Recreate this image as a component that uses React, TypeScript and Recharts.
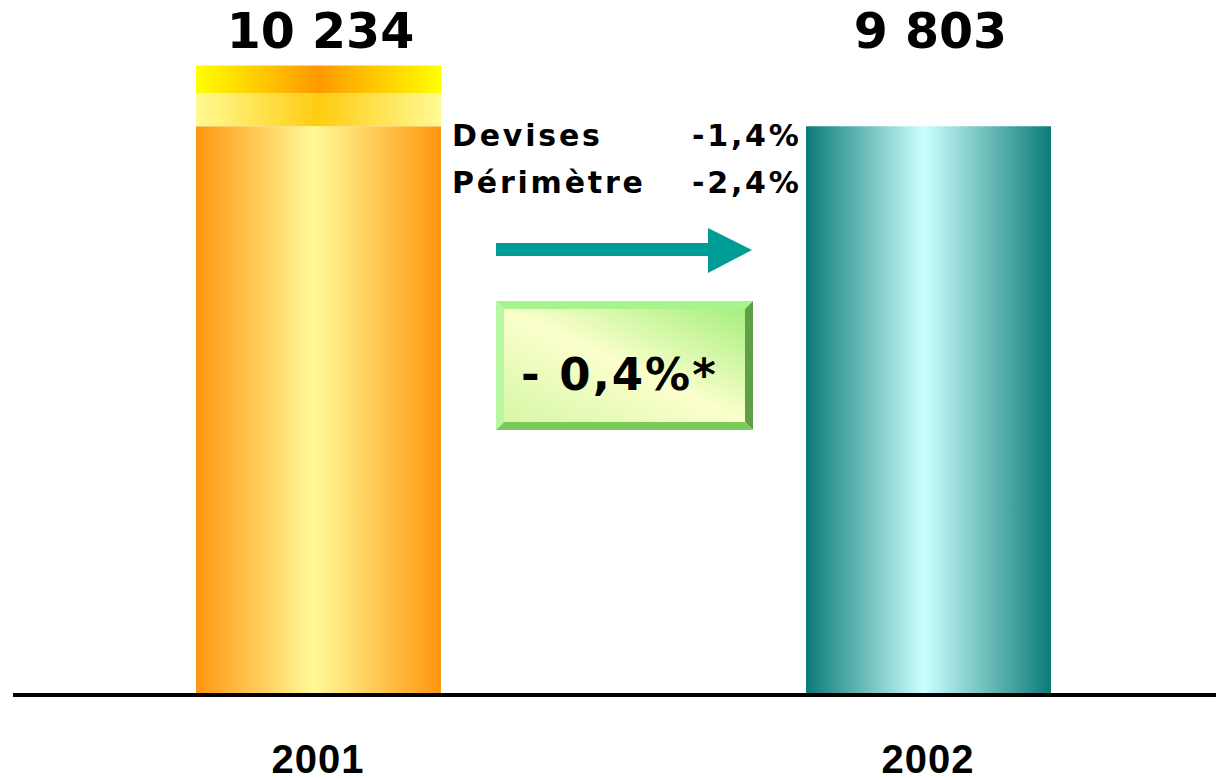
import React from 'react';
import { BarChart, Bar, XAxis, YAxis, LabelList, Cell } from 'recharts';

const years = ['2001', '2002'];
const totals = [10234, 9803];
const baseValues = [9803, 9803];
const perimetreValues = [235, 0];
const devisesValues = [196, 0];
const effectLabels = ['Devises', 'Périmètre'];
const effectValues = ['-1,4%', '-2,4%'];
const organicChange = '- 0,4%*';

const data = years.map((year, i) => ({
  year,
  total: totals[i],
  base: baseValues[i],
  perimetre: perimetreValues[i],
  devises: devisesValues[i],
}));

const WIDE = '"DejaVu Sans", Verdana, sans-serif';
const ARIAL = '"Liberation Sans", Arial, sans-serif';
const bodyFills = ['url(#orangeBody)', 'url(#tealBody)'];

const formatTotal = (v: number) => String(v).replace(/\B(?=(\d{3})+(?!\d))/g, ' ');

const renderTotal = (props: any) => {
  const { x, width, value } = props;
  return (
    <text
      x={Number(x) + Number(width) / 2 + 2}
      y={48}
      textAnchor="middle"
      fontFamily={WIDE}
      fontWeight="bold"
      fontSize={49}
      fill="#000"
    >
      {formatTotal(value)}
    </text>
  );
};

const YearTick = (props: any) => {
  const { x, y, payload } = props;
  return (
    <text x={x} y={y} dy={78} textAnchor="middle" fontFamily={ARIAL} fontWeight="bold" fontSize={40} letterSpacing={1} fill="#000">
      {payload.value}
    </text>
  );
};

const Annotations = () => (
  <svg width={1216} height={780} style={{ position: 'absolute', left: 0, top: 0, pointerEvents: 'none' }}>
    <defs>
      <linearGradient id="boxFace" x1="1" y1="0" x2="0" y2="1">
        <stop offset="0%" stopColor="#a6ef7c" />
        <stop offset="50%" stopColor="#fbffcc" />
        <stop offset="100%" stopColor="#d6f7a6" />
      </linearGradient>
    </defs>
    {effectLabels.map((label, i) => (
      <g key={label} fontFamily={WIDE} fontWeight="bold" fontSize={30} letterSpacing={2.8} fill="#000">
        <text x={452} y={146 + i * 47}>{label}</text>
        <text x={692} y={146 + i * 47}>{effectValues[i]}</text>
      </g>
    ))}
    {/* arrow */}
    <rect x={496} y={243} width={213} height={13} fill="#009d96" />
    <polygon points="708,228 752,250 708,273" fill="#009d96" />
    {/* bevelled box */}
    <polygon points="496,301 753,301 745,309 504,309" fill="#a8f48c" />
    <polygon points="496,301 504,309 504,422 496,430" fill="#b8f8a2" />
    <polygon points="753,301 753,430 745,422 745,309" fill="#5f9f47" />
    <polygon points="496,430 753,430 745,422 504,422" fill="#7acb5a" />
    <rect x={504} y={309} width={241} height={113} fill="url(#boxFace)" />
    <text x={521} y={390} fontFamily={WIDE} fontWeight="bold" fontSize={45} letterSpacing={2} fill="#000">
      {organicChange}
    </text>
  </svg>
);

export default function App() {
  return (
    <div style={{ position: 'absolute', left: 0, top: 0, width: 1216, height: 780, overflow: 'hidden', background: '#fff' }}>
      <BarChart width={1240} height={780} data={data} margin={{ top: 0, right: 7, left: 13, bottom: 0 }}>
        <defs>
          <linearGradient id="orangeBody" x1="0" y1="0" x2="1" y2="0">
            <stop offset="0%" stopColor="#ff960f" />
            <stop offset="48%" stopColor="#fffa99" />
            <stop offset="100%" stopColor="#ff960f" />
          </linearGradient>
          <linearGradient id="tealBody" x1="0" y1="0" x2="1" y2="0">
            <stop offset="0%" stopColor="#0c7b77" />
            <stop offset="48%" stopColor="#ccffff" />
            <stop offset="100%" stopColor="#0c7b77" />
          </linearGradient>
          <linearGradient id="perimetreBand" x1="0" y1="0" x2="1" y2="0">
            <stop offset="0%" stopColor="#fffa95" />
            <stop offset="50%" stopColor="#ffcc10" />
            <stop offset="100%" stopColor="#fffa95" />
          </linearGradient>
          <linearGradient id="devisesBand" x1="0" y1="0" x2="1" y2="0">
            <stop offset="0%" stopColor="#ffff00" />
            <stop offset="50%" stopColor="#ff9900" />
            <stop offset="100%" stopColor="#ffff00" />
          </linearGradient>
        </defs>
        <YAxis hide domain={[5760, 10700]} allowDataOverflow />
        <Bar dataKey="base" stackId="a" barSize={245} isAnimationActive={false}>
          {data.map((d, i) => (
            <Cell key={d.year} fill={bodyFills[i]} />
          ))}
          <LabelList dataKey="total" content={renderTotal} />
        </Bar>
        <Bar dataKey="perimetre" stackId="a" barSize={245} fill="url(#perimetreBand)" isAnimationActive={false} />
        <Bar dataKey="devises" stackId="a" barSize={245} fill="url(#devisesBand)" isAnimationActive={false} />
        <XAxis
          dataKey="year"
          height={85}
          interval={0}
          tickLine={false}
          tickSize={0}
          tickMargin={0}
          axisLine={{ stroke: '#000', strokeWidth: 4 }}
          tick={<YearTick />}
        />
      </BarChart>
      <Annotations />
    </div>
  );
}
